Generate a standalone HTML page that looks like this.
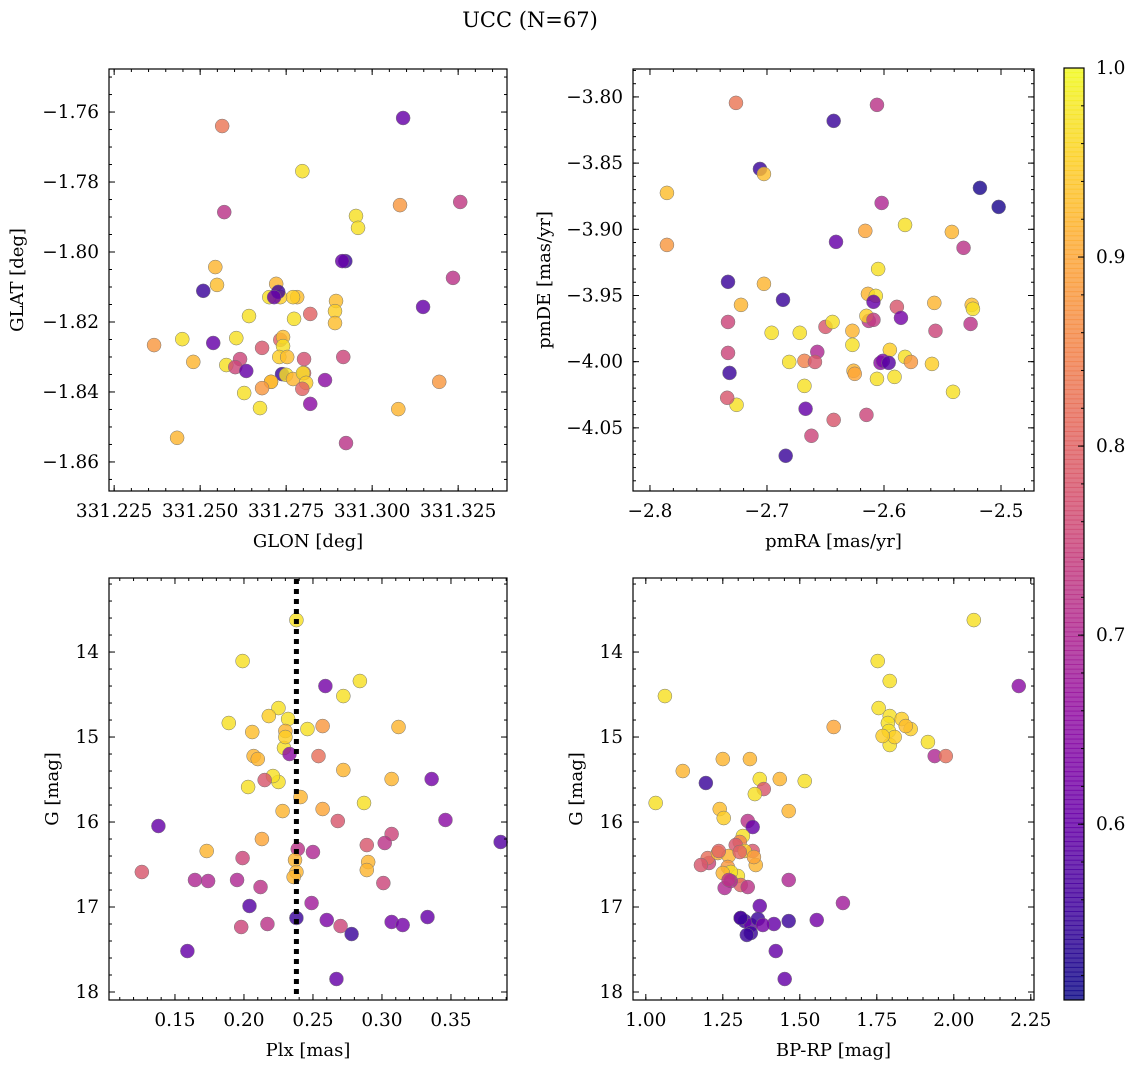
<!DOCTYPE html>
<html><head><meta charset="utf-8"><style>
html,body{margin:0;padding:0;background:#fff}
svg{display:block;font-family:"DejaVu Serif","Liberation Serif",serif}
</style></head><body>
<svg id="fig" width="1136" height="1068" viewBox="0 0 1136 1068">
<text x="530" y="27" font-size="21" text-anchor="middle">UCC (N=67)</text>
</svg>
<script>
// ---- Panel 1: GLON / GLAT ----
const glon=[331.2564,331.3090,331.2797,331.2570,331.3256,331.3081,331.2953,331.2959,331.2922,331.2913,331.2509,331.2544,331.2549,331.2721,331.2733,331.2701,331.2727,331.2715,331.2782,331.2770,331.2895,331.2892,331.2892,331.2820,331.3148,331.3235,331.2642,331.2773,331.2366,331.2448,331.2480,331.2538,331.2605,331.2733,331.2741,331.2741,331.2680,331.2576,331.2616,331.2602,331.2634,331.2730,331.2753,331.2738,331.2750,331.2706,331.2770,331.2802,331.2802,331.2799,331.2808,331.2706,331.2680,331.2628,331.2863,331.2797,331.2916,331.3195,331.2820,331.2674,331.2433,331.3076,331.2924];
const glat=[-1.7640,-1.7617,-1.7769,-1.7886,-1.7857,-1.7866,-1.7897,-1.7931,-1.8026,-1.8026,-1.8111,-1.8043,-1.8094,-1.8091,-1.8129,-1.8129,-1.8114,-1.8129,-1.8129,-1.8129,-1.8140,-1.8169,-1.8203,-1.8177,-1.8157,-1.8074,-1.8183,-1.8191,-1.8266,-1.8249,-1.8314,-1.8260,-1.8246,-1.8251,-1.8243,-1.8269,-1.8274,-1.8323,-1.8306,-1.8329,-1.8340,-1.8300,-1.8300,-1.8349,-1.8351,-1.8371,-1.8363,-1.8346,-1.8306,-1.8346,-1.8374,-1.8371,-1.8389,-1.8403,-1.8366,-1.8391,-1.8300,-1.8371,-1.8434,-1.8446,-1.8531,-1.8449,-1.8546];
const prob1=[0.83,0.6,0.97,0.72,0.73,0.88,0.97,0.97,0.55,0.6,0.55,0.92,0.93,0.92,0.95,0.97,0.55,0.6,0.93,0.95,0.93,0.95,0.93,0.8,0.6,0.72,0.97,0.97,0.88,0.97,0.92,0.6,0.97,0.8,0.93,0.97,0.78,0.97,0.75,0.75,0.6,0.95,0.93,0.55,0.97,0.95,0.92,0.8,0.77,0.97,0.95,0.92,0.88,0.97,0.65,0.8,0.75,0.88,0.65,0.97,0.92,0.92,0.72];
// ---- Panel 2: pmRA / pmDE ----
const pmra=[-2.7265,-2.643,-2.606,-2.706,-2.7026,-2.7855,-2.518,-2.502,-2.602,-2.7855,-2.616,-2.582,-2.542,-2.641,-2.532,-2.605,-2.7333,-2.7026,-2.7222,-2.6863,-2.6137,-2.607,-2.589,-2.557,-2.525,-2.524,-2.609,-2.5855,-2.613,-2.7333,-2.672,-2.650,-2.644,-2.627,-2.615,-2.609,-2.526,-2.556,-2.696,-2.627,-2.595,-2.582,-2.657,-2.7333,-2.681,-2.668,-2.659,-2.603,-2.601,-2.596,-2.577,-2.559,-2.732,-2.626,-2.606,-2.591,-2.541,-2.668,-2.625,-2.726,-2.734,-2.667,-2.643,-2.615,-2.662,-2.684];
const pmde=[-3.8045,-3.8181,-3.8060,-3.8544,-3.8582,-3.8725,-3.8687,-3.8831,-3.8801,-3.9118,-3.9012,-3.8967,-3.902,-3.9095,-3.914,-3.930,-3.9397,-3.9412,-3.9571,-3.9533,-3.9488,-3.9503,-3.9586,-3.9556,-3.9571,-3.9601,-3.9548,-3.9669,-3.9692,-3.970,-3.9782,-3.9737,-3.970,-3.9767,-3.9654,-3.9684,-3.9715,-3.9767,-3.9782,-3.9873,-3.9911,-3.9964,-3.9926,-3.9934,-4.0002,-3.9994,-4.0002,-4.0009,-3.9994,-4.0009,-4.0002,-4.0017,-4.0085,-4.0069,-4.013,-4.0115,-4.0228,-4.0183,-4.0092,-4.0326,-4.0273,-4.0356,-4.044,-4.0402,-4.056,-4.0711];
const prob2=[0.83,0.55,0.72,0.55,0.93,0.93,0.52,0.52,0.7,0.88,0.9,0.97,0.92,0.6,0.72,0.97,0.55,0.92,0.92,0.55,0.92,0.97,0.78,0.92,0.93,0.97,0.6,0.62,0.72,0.75,0.97,0.78,0.97,0.92,0.95,0.73,0.72,0.75,0.97,0.97,0.95,0.97,0.7,0.75,0.97,0.85,0.78,0.65,0.63,0.58,0.88,0.95,0.55,0.92,0.97,0.97,0.97,0.97,0.9,0.97,0.78,0.6,0.78,0.75,0.75,0.55];
// ---- Panel 3: Plx / G ----
const plx=[0.238,0.199,0.259,0.284,0.272,0.189,0.225,0.218,0.232,0.206,0.230,0.229,0.230,0.246,0.257,0.312,0.207,0.210,0.233,0.254,0.272,0.225,0.221,0.215,0.203,0.307,0.336,0.241,0.228,0.257,0.287,0.138,0.268,0.346,0.307,0.386,0.213,0.289,0.302,0.173,0.239,0.250,0.199,0.237,0.290,0.289,0.126,0.238,0.236,0.1645,0.195,0.212,0.301,0.174,0.204,0.249,0.238,0.260,0.217,0.270,0.278,0.307,0.315,0.333,0.198,0.159,0.267];
const gmag3=[13.624,14.106,14.4,14.341,14.518,14.835,14.659,14.753,14.788,14.941,14.929,15.129,15.0,14.906,14.871,14.882,15.224,15.259,15.2,15.224,15.388,15.529,15.459,15.506,15.588,15.494,15.494,15.706,15.871,15.847,15.776,16.047,15.988,15.976,16.141,16.235,16.2,16.271,16.247,16.341,16.318,16.353,16.424,16.447,16.471,16.565,16.588,16.588,16.647,16.682,16.682,16.765,16.718,16.694,16.988,16.953,17.129,17.153,17.2,17.224,17.318,17.176,17.212,17.118,17.235,17.518,17.847];
const prob3=[0.97,0.97,0.62,0.97,0.97,0.97,0.97,0.95,0.97,0.93,0.92,0.97,0.95,0.97,0.88,0.92,0.92,0.92,0.65,0.82,0.92,0.97,0.97,0.78,0.97,0.92,0.62,0.92,0.92,0.9,0.97,0.6,0.78,0.65,0.75,0.58,0.9,0.78,0.72,0.92,0.72,0.7,0.75,0.92,0.92,0.92,0.78,0.92,0.92,0.7,0.7,0.72,0.75,0.7,0.58,0.68,0.55,0.63,0.72,0.75,0.55,0.62,0.62,0.6,0.75,0.6,0.6];
const plxLine=0.238;
// ---- Panel 4: BP-RP / G ----
const bprp=[2.065,1.753,2.211,1.062,1.792,1.756,1.792,1.831,1.860,1.786,1.789,1.792,1.808,1.844,1.769,1.916,1.610,1.120,1.250,1.338,1.938,1.974,1.032,1.195,1.370,1.383,1.435,1.516,1.354,1.240,1.253,1.331,1.347,1.464,1.315,1.305,1.292,1.347,1.321,1.205,1.201,1.234,1.269,1.237,1.305,1.357,1.351,1.179,1.266,1.299,1.276,1.250,1.308,1.276,1.331,1.256,1.464,1.269,1.640,1.370,1.308,1.321,1.341,1.364,1.416,1.380,1.341,1.464,1.308,1.328,1.422,1.451,1.555];
const gmag4=[13.624,14.106,14.4,14.518,14.341,14.659,14.753,14.788,14.906,14.835,14.929,15.094,15.0,14.871,14.988,15.059,14.882,15.4,15.259,15.259,15.224,15.224,15.776,15.541,15.494,15.612,15.494,15.518,15.671,15.847,15.953,15.988,16.059,15.871,16.165,16.235,16.271,16.341,16.341,16.482,16.424,16.365,16.4,16.341,16.353,16.506,16.412,16.506,16.529,16.635,16.588,16.6,16.741,16.694,16.765,16.776,16.682,16.682,16.953,16.988,17.129,17.165,17.212,17.141,17.2,17.212,17.306,17.165,17.129,17.329,17.518,17.847,17.153];
const prob4=[0.97,0.97,0.65,0.97,0.97,0.97,0.97,0.95,0.95,0.97,0.97,0.97,0.95,0.93,0.95,0.97,0.9,0.92,0.92,0.92,0.7,0.82,0.97,0.55,0.97,0.78,0.92,0.97,0.97,0.93,0.95,0.72,0.6,0.92,0.97,0.85,0.78,0.78,0.95,0.75,0.82,0.92,0.92,0.8,0.8,0.92,0.9,0.78,0.88,0.97,0.97,0.92,0.8,0.7,0.72,0.7,0.7,0.72,0.68,0.6,0.65,0.55,0.6,0.55,0.6,0.62,0.55,0.55,0.55,0.55,0.6,0.6,0.62];
// ticks
const ticks1x=[331.225,331.250,331.275,331.300,331.325], ticks1y=[-1.76,-1.78,-1.80,-1.82,-1.84,-1.86];
const ticks2x=[-2.8,-2.7,-2.6,-2.5], ticks2y=[-3.80,-3.85,-3.90,-3.95,-4.00,-4.05];
const ticks3x=[0.15,0.20,0.25,0.30,0.35], ticksG=[14,15,16,17,18];
const ticks4x=[1.00,1.25,1.50,1.75,2.00,2.25];
const cbTicks=[0.6,0.7,0.8,0.9,1.0];
const vmin=0.507, vmax=1.0;

const NS="http://www.w3.org/2000/svg";
const svg=document.getElementById('fig');
function el(tag,attrs,parent){const e=document.createElementNS(NS,tag);for(const k in attrs)e.setAttribute(k,attrs[k]);(parent||svg).appendChild(e);return e;}
const stops=[[13,8,135],[65,4,157],[106,0,168],[143,13,164],[177,42,144],[204,71,120],[225,100,98],[242,132,75],[252,166,54],[252,206,37],[240,249,33]];
function plasma(c){let t=(c-vmin)/(vmax-vmin);t=Math.max(0,Math.min(1,t))*10;const i=Math.min(9,Math.floor(t)),f=t-i;const a=stops[i],b=stops[i+1];return 'rgb('+a.map((v,k)=>Math.round(v+(b[k]-v)*f)).join(',')+')';}
function fmt(v,d){return (v<0?'\u2212':'')+Math.abs(v).toFixed(d);}
const TF=18.5, LF=18;

function panel(name,box,xd,yd,xs,ys,cs,xt,yt,xdec,ydec,xminor,yminor,xlabel,ylabel,ylx){
  const [L,T,R,B]=box;
  const sx=v=>L+(v-xd[0])/(xd[1]-xd[0])*(R-L);
  const sy=v=>T+(v-yd[0])/(yd[1]-yd[0])*(B-T);
  const g=el('g',{});
  
  
  const pts=el('g',{},g);
  
  
  const n=Math.min(xs.length,ys.length);
  for(let i=0;i<n;i++){
    const c=el('circle',{cx:sx(xs[i]),cy:sy(ys[i]),r:7,fill:plasma(cs[i]!==undefined?cs[i]:0.9),'fill-opacity':0.82,stroke:'#777','stroke-width':0.5},pts);
    
    
  }
  const lo=Math.min(xd[0],xd[1]),hi=Math.max(xd[0],xd[1]);
  for(let v=Math.ceil(lo/xminor-1e-6)*xminor;v<=hi+1e-9;v+=xminor){const x=sx(v);el('line',{x1:x,x2:x,y1:B,y2:B-3,stroke:'#000','stroke-width':1},g);el('line',{x1:x,x2:x,y1:T,y2:T+3,stroke:'#000','stroke-width':1},g);}
  const ylo=Math.min(yd[0],yd[1]),yhi=Math.max(yd[0],yd[1]);
  for(let v=Math.ceil(ylo/yminor-1e-6)*yminor;v<=yhi+1e-9;v+=yminor){const y=sy(v);el('line',{x1:L,x2:L+3,y1:y,y2:y,stroke:'#000','stroke-width':1},g);el('line',{x1:R,x2:R-3,y1:y,y2:y,stroke:'#000','stroke-width':1},g);}
  xt.forEach(v=>{const x=sx(v);el('line',{x1:x,x2:x,y1:B,y2:B-6,stroke:'#000','stroke-width':1},g);el('line',{x1:x,x2:x,y1:T,y2:T+6,stroke:'#000','stroke-width':1},g);
    const t=el('text',{x:x,y:B+26,'font-size':TF,'text-anchor':'middle'},g);t.textContent=fmt(v,xdec);
    
    });
  yt.forEach(v=>{const y=sy(v);el('line',{x1:L,x2:L+6,y1:y,y2:y,stroke:'#000','stroke-width':1},g);el('line',{x1:R,x2:R-6,y1:y,y2:y,stroke:'#000','stroke-width':1},g);
    const t=el('text',{x:L-10,y:y+6,'font-size':TF,'text-anchor':'end'},g);t.textContent=fmt(v,ydec);
    
    });
  el('rect',{x:L,y:T,width:R-L,height:B-T,fill:'none',stroke:'#000','stroke-width':1.2},g);
  const xl=el('text',{x:(L+R)/2,y:B+56,'font-size':LF,'text-anchor':'middle'},g);xl.textContent=xlabel;
  
  
  const yl=el('text',{x:0,y:0,'font-size':LF,'text-anchor':'middle',transform:'translate('+ylx+','+((T+B)/2)+') rotate(-90)'},g);yl.textContent=ylabel;
  
  
  return {sx,sy};
}
const p1=panel('panel-glon-glat',[109,69,507,491],[331.2235,331.3392],[-1.7477,-1.8683],glon,glat,prob1,ticks1x,ticks1y,3,2,0.005,0.005,'GLON [deg]','GLAT [deg]',23);
const p2=panel('panel-pm',[633,69,1034,491],[-2.8145,-2.4718],[-3.7789,-4.0977],pmra,pmde,prob2,ticks2x,ticks2y,1,2,0.02,0.01,'pmRA [mas/yr]','pmDE [mas/yr]',550);
const p3=panel('panel-plx-g',[109,578,507,1000],[0.1022,0.3906],[13.129,18.094],plx,gmag3,prob3,ticks3x,ticksG,2,0,0.01,0.2,'Plx [mas]','G [mag]',58);
const p4=panel('panel-cmd',[633,578,1034,1000],[0.9584,2.2604],[13.129,18.094],bprp,gmag4,prob4,ticks4x,ticksG,2,0,0.05,0.2,'BP-RP [mag]','G [mag]',582);
const ln=el('line',{x1:p3.sx(plxLine),x2:p3.sx(plxLine),y1:579,y2:999,stroke:'#000','stroke-width':5,'stroke-dasharray':'5,5'});


const cb=el('g',{});


const CL=1064,CR=1084,CT=68,CB=1000;
const cy=v=>CB-(v-vmin)/(vmax-vmin)*(CB-CT);
for(let i=0;i<200;i++){const v0=vmin+(vmax-vmin)*i/200,v1=vmin+(vmax-vmin)*(i+1)/200;el('rect',{x:CL,y:cy(v1)-0.5,width:CR-CL,height:cy(v0)-cy(v1)+1,fill:plasma((v0+v1)/2),'fill-opacity':0.82},cb);}
for(let v=0.52;v<=1.0001;v+=0.02){el('line',{x1:CR,x2:CR-3,y1:cy(v),y2:cy(v),stroke:'#000','stroke-width':1},cb);}
cbTicks.forEach(v=>{const y=cy(v);el('line',{x1:CR,x2:CR-6,y1:y,y2:y,stroke:'#000','stroke-width':1},cb);
  const t=el('text',{x:CR+12,y:y+6,'font-size':TF},cb);t.textContent=v.toFixed(1);
  
  });
el('rect',{x:CL,y:CT,width:CR-CL,height:CB-CT,fill:'none',stroke:'#000','stroke-width':1.2},cb);
</script>
</body></html>
